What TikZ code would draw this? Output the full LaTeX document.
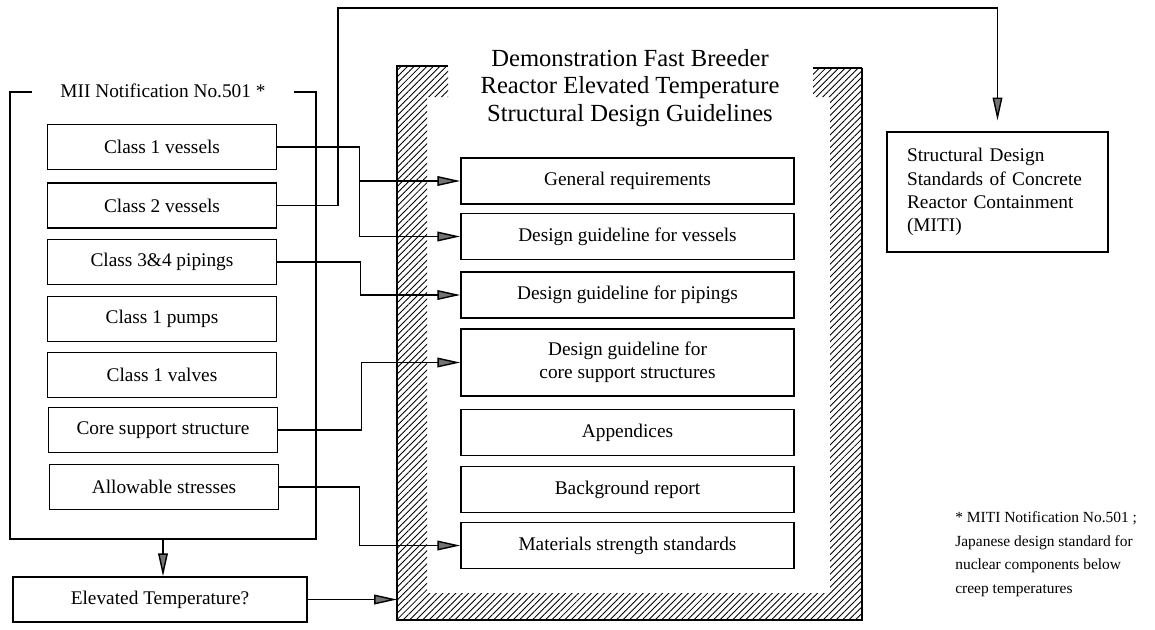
\documentclass[tikz,border=0pt]{standalone}
\usepackage{fontspec}
\setmainfont{Liberation Serif}
\usetikzlibrary{arrows.meta,patterns.meta}

\tikzset{
  box/.style={draw, line width=0.9pt, minimum width=4.58cm, minimum height=0.9cm,
    font=\fontsize{11}{13}\selectfont},
  guide/.style={box, minimum width=6.66cm, minimum height=0.92cm},
  link/.style={line width=0.8pt},
  arr/.style={link, -{Triangle[length=13pt, width=5.5pt, fill=black!55]}}
}

\begin{document}
\begin{tikzpicture}[x=0.02cm, y=-0.02cm]
\useasboundingbox (0,0) rectangle (1155,629);

% hatched frame round the guidelines
\fill[pattern={Lines[angle=45,distance=2.6pt,line width=0.5pt]}]
  (397,66) -- (448,66) -- (448,97) -- (427,97) -- (427,593) -- (830,593) -- (830,97)
  -- (813,97) -- (813,68) -- (862,68) -- (862,620) -- (397,620) -- cycle;
\draw[line width=1.6pt] (448,66) -- (397,66) -- (397,620) -- (862,620) -- (862,68);
\draw[line width=0.6pt] (813,68) -- (862,68);
\coordinate (wall) at (397,600);

\node[align=center, font=\fontsize{14}{15.6}\selectfont] (title) at (630,88)
  {Demonstration Fast Breeder\\Reactor Elevated Temperature\\Structural Design Guidelines};

% MII notification
\node[draw, line width=1.3pt, minimum width=6.12cm, minimum height=8.94cm] (mii) at (163,315.5) {};
\node[fill=white, inner xsep=16pt, font=\fontsize{11}{13}\selectfont] (miit) at (mii.north) {MII Notification No.501 *};

\node[box] (c1v) at (162,147) {Class 1 vessels};
\node[box] (c2v) at (162,205.5) {Class 2 vessels};
\node[box] (c34p) at (162,262) {Class 3\&4 pipings};
\node[box] (c1p) at (162,319) {Class 1 pumps};
\node[box] (c1va) at (162,375) {Class 1 valves};
\node[box] (css) at (163,430) {Core support structure};
\node[box] (alw) at (164,487) {Allowable stresses};

\node[box, minimum width=5.88cm] (elev) at (160,599.5) {Elevated Temperature?};

% guidelines
\node[guide] (gen) at (627.5,181) {General requirements};
\node[guide] (ves) at (627.5,236.5) {Design guideline for vessels};
\node[guide] (pip) at (627.5,295) {Design guideline for pipings};
\node[guide, minimum height=1.34cm, align=center] (core) at (627.5,362.5) {Design guideline for\\core support structures};
\node[guide] (app) at (627.5,432.5) {Appendices};
\node[guide] (bg) at (627.5,489.5) {Background report};
\node[guide] (mat) at (627.5,545.5) {Materials strength standards};

\node[draw, line width=1.2pt, text width=3.62cm, inner xsep=0.4cm, minimum height=2.4cm, align=left,
  font=\fontsize{11}{13.2}\selectfont] (sds) at (997.5,192)
  {Structural Design\\Standards of Concrete\\Reactor Containment\\(MITI)};

\node[anchor=west, align=left, inner xsep=0pt, font=\fontsize{8.8}{13.4}\selectfont] (note) at (955,554)
  {* MITI Notification No.501 ;\\Japanese design standard for\\nuclear components below\\creep temperatures};

% connectors
\coordinate (top) at (338,8);
\draw[arr] (c1v.east) -- ++(82,0) coordinate (j1) |- (gen.west);
\draw[arr] (j1) |- (ves.west);
\draw[arr, shorten >=6pt] (c2v.east) -| (top) -| (sds.north);
\draw[arr] (c34p.east) -- ++(83,0) |- (pip.west);
\draw[arr] (css.east) -- ++(83,0) |- (core.west);
\draw[arr] (alw.east) -- ++(80,0) |- (mat.west);
\draw[arr] (mii.south) -- (mii.south |- elev.north);
\draw[arr] (elev.east) -- (elev.east -| wall);
\end{tikzpicture}
\end{document}
